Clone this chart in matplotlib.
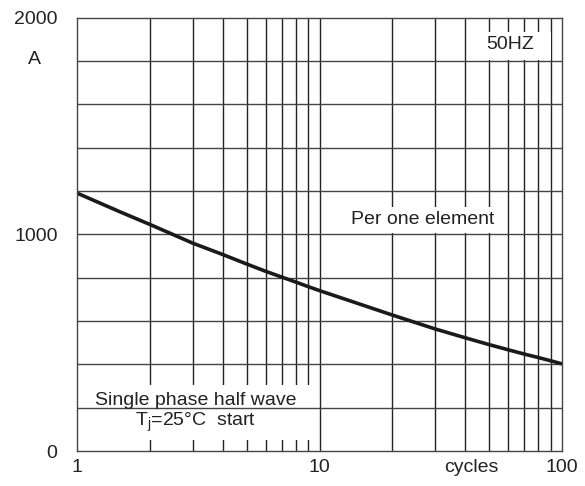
import matplotlib.pyplot as plt
import matplotlib.patches as mpatches
import numpy as np

plt.rcParams['font.family'] = ['Liberation Sans', 'DejaVu Sans']

# surge current vs number of cycles
cycles = [1, 1.5, 2, 3, 4, 5, 6, 7, 8, 9, 10, 20, 30, 40, 50, 60, 70, 80, 90, 100]
current = [1190, 1104, 1045, 959, 906, 863, 829, 802, 779, 758, 740, 627, 563, 522, 491, 467, 447, 431, 416, 402]

x_ticks = [1, 10, 100]
y_ticks = [0, 1000, 2000]
x_grid = [2, 3, 4, 5, 6, 7, 8, 9, 10, 20, 30, 40, 50, 60, 70, 80, 90]
y_grid = np.arange(200, 2000, 200)

fig = plt.figure(figsize=(5.85, 4.86), dpi=100)
ax = fig.add_axes([77 / 585, 35 / 486, 485 / 585, 433.5 / 486])
ax.set_xscale('log')
ax.set_xlim(1, 100)
ax.set_ylim(0, 2000)

for v in x_grid:
    ax.axvline(v, color='#222222', lw=1.0, zorder=1)
for v in y_grid:
    ax.axhline(v, color='#444444', lw=1.0, zorder=1.5)

ax.plot(cycles, current, color='#1a1a1a', lw=2.6, zorder=3,
        solid_capstyle='butt', solid_joinstyle='round')

for s in ax.spines.values():
    s.set_color('#444444')
    s.set_linewidth(1.0)
    s.set_zorder(5)

ax.set_xticks(x_ticks)
ax.set_xticklabels([str(t) for t in x_ticks])
ax.set_xticks([], minor=True)
ax.set_yticks(y_ticks)
ax.set_yticklabels([str(t) for t in y_ticks])
ax.tick_params(length=0, labelsize=14, colors='#222222')
ax.tick_params(axis='y', pad=14)
ax.tick_params(axis='x', pad=6)

fig.text(34 / 585, 1 - 60 / 486, 'A', fontsize=14, ha='center', va='center', color='#222222')
fig.text(471 / 585, 1 - 467 / 486, 'cycles', fontsize=14, ha='center', va='center', color='#222222')

# white label boxes (axes fraction)
boxes = [(0.847, 0.902, 0.13, 0.065),
         (0.542, 0.504, 0.34, 0.059),
         (0.003, 0.025, 0.477, 0.127)]
for x0, y0, w, h in boxes:
    ax.add_patch(mpatches.Rectangle((x0, y0), w, h, transform=ax.transAxes,
                                    facecolor='white', edgecolor='none', zorder=1.2))

ax.text(0.893, 0.937, '50HZ', transform=ax.transAxes, fontsize=14, ha='center', va='center',
        color='#222222', zorder=4)
ax.text(0.712, 0.535, 'Per one element', transform=ax.transAxes, fontsize=14, ha='center', va='center',
        color='#222222', zorder=4)
ax.text(0.244, 0.088, 'Single phase half wave\n$\\mathregular{T_j}$=25°C  start', transform=ax.transAxes,
        fontsize=14, ha='center', va='center', color='#222222', linespacing=1.15, zorder=4)

fig.savefig('out.png', dpi=100)
